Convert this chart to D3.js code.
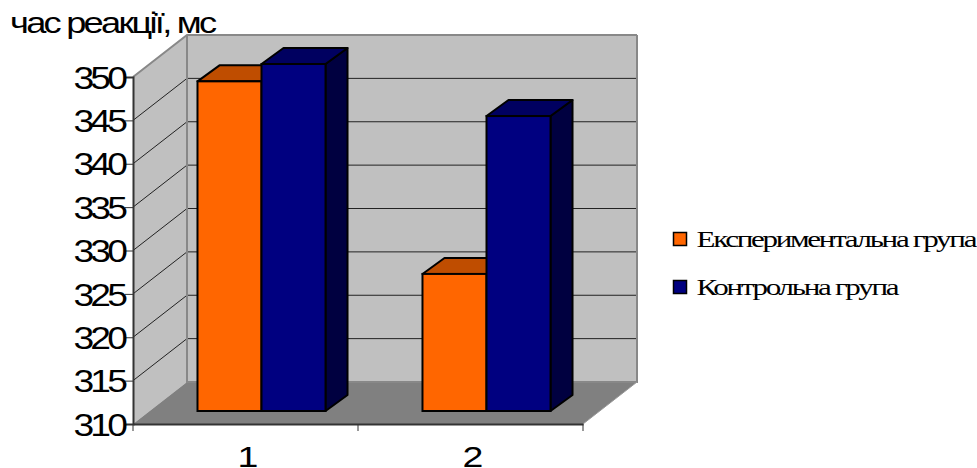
<!DOCTYPE html>
<html>
<head>
<meta charset="utf-8">
<script src="https://cdn.jsdelivr.net/npm/d3@7"></script>
<style>
html,body{margin:0;padding:0;background:#fff;overflow:hidden}
svg{display:block}
</style>
</head>
<body>
<svg id="chart" width="977" height="468"></svg>
<script>
const categories = ["1", "2"];
const seriesNames = ["Експериментальна група", "Контрольна група"];
const experimental = [348, 325.8];
const control = [350, 344];
const yTicks = [310, 315, 320, 325, 330, 335, 340, 345, 350];
const axisTitle = "час реакції, мс";
const fills = ["#ff6600", "#000080"];
const topFills = ["#bf4d00", "#000060"];
const sideFills = ["#bf4d00", "#000040"];

const svg = d3.select("#chart");

// Box projection: front plane and the offset of the back wall
const y = d3.scaleLinear().domain([310, 350]).range([424, 77]);
const x = d3.scaleBand().domain(categories).range([133, 583]);
const wallDx = 54, wallDy = -42;
const barInsetX = 16, barInsetY = -13;
const barDx = 22, barDy = -16;

const xBars = d3.scaleBand().domain(categories)
  .range([133 + barInsetX, 583 + barInsetX]).paddingInner(0.431).paddingOuter(0.2155);
const xGroup = d3.scaleBand().domain([0, 1]).range([0, xBars.bandwidth()]);

const x0 = x.range()[0], x1 = x.range()[1];
const yB = y(310), yT = y(350);
const pts = a => a.map(p => p.join(",")).join(" ");

// Walls and floor
svg.append("polygon").attr("fill", "#c0c0c0")
  .attr("points", pts([[x0 + wallDx, yB + wallDy], [x1 + wallDx, yB + wallDy], [x1 + wallDx, yT + wallDy], [x0 + wallDx, yT + wallDy]]));
svg.append("polygon").attr("fill", "#c0c0c0")
  .attr("points", pts([[x0, yB], [x0 + wallDx, yB + wallDy], [x0 + wallDx, yT + wallDy], [x0, yT]]));
svg.append("polygon").attr("fill", "#808080")
  .attr("points", pts([[x0, yB], [x0 + wallDx, yB + wallDy], [x1 + wallDx, yB + wallDy], [x1, yB]]));

// Gridlines running along the side wall and across the back wall
svg.append("g").selectAll("polyline").data(yTicks.slice(1)).join("polyline")
  .attr("fill", "none")
  .attr("points", d => pts([[x0, y(d)], [x0 + wallDx, y(d) + wallDy], [x1 + wallDx, y(d) + wallDy]]))
  .attr("stroke", d => d === 350 ? "#888" : "#222")
  .attr("stroke-width", d => d === 350 ? 2 : 1);

// Wall edges
svg.append("polyline").attr("fill", "none").attr("stroke", "#888").attr("stroke-width", 2)
  .attr("points", pts([[x0 + wallDx, yT + wallDy], [x0 + wallDx, yB + wallDy], [x1 + wallDx, yB + wallDy], [x1 + wallDx, yT + wallDy]]));
svg.append("line").attr("stroke", "#999").attr("stroke-width", 1)
  .attr("x1", x1).attr("y1", yB).attr("x2", x1 + wallDx).attr("y2", yB + wallDy);

// Bars: side and top faces first, then the front face
[0, 1].forEach(s => {
  const values = s === 0 ? experimental : control;
  const g = svg.append("g");
  categories.forEach((c, i) => {
    const l = xBars(c) + xGroup(s), r = l + xGroup.bandwidth();
    const t = y(values[i]) + barInsetY, b = yB + barInsetY;
    g.append("polygon").attr("fill", sideFills[s])
      .attr("stroke", "#000").attr("stroke-width", 2).attr("stroke-linejoin", "round")
      .attr("points", pts([[r, t], [r + barDx, t + barDy], [r + barDx, b + barDy], [r, b]]));
    g.append("polygon").attr("fill", topFills[s])
      .attr("stroke", "#000").attr("stroke-width", 2).attr("stroke-linejoin", "round")
      .attr("points", pts([[l, t], [l + barDx, t + barDy], [r + barDx, t + barDy], [r, t]]));
  });
});
// Front faces go on last so the taller neighbour covers the shorter bar's side
[0, 1].forEach(s => {
  const values = s === 0 ? experimental : control;
  svg.append("g").selectAll("rect").data(categories).join("rect")
    .attr("x", c => xBars(c) + xGroup(s))
    .attr("y", (c, i) => y(values[i]) + barInsetY)
    .attr("width", xGroup.bandwidth())
    .attr("height", (c, i) => yB - y(values[i]))
    .attr("fill", fills[s]).attr("stroke", "#000").attr("stroke-width", 2);
});

// Axes
const font = "'Liberation Sans', Arial, sans-serif";
const axisY = svg.append("g").attr("transform", `translate(${x0},0)`)
  .call(d3.axisLeft(y).tickValues(yTicks).tickSize(8));
const axisX = svg.append("g").attr("transform", `translate(0,${yB})`)
  .call(d3.axisBottom(x).tickSize(0));
axisX.append("g").selectAll("line").data([0, 1, 2]).join("line")
  .attr("x1", i => x0 + i * x.step()).attr("x2", i => x0 + i * x.step())
  .attr("y1", 0).attr("y2", 7).attr("stroke", "#333");
[axisY, axisX].forEach(a => {
  a.selectAll(".domain").attr("stroke", "#333").attr("stroke-width", 2);
  a.selectAll(".tick line").attr("stroke", "#333");
  a.selectAll("text").attr("fill", "#000").style("font-family", font)
    .style("font-size", "30px");
});
// Wide, tightly set numerals
axisY.selectAll("text").attr("x", 0).attr("dy", "0.36em")
  .attr("transform", "translate(-9,0) scale(1.2,1)").style("font-size", "31px").style("letter-spacing", "-3.2px");
axisX.selectAll("text").attr("x", 0).attr("y", 0).attr("dy", 0)
  .attr("transform", "translate(2.5,43) scale(1.25,1)");

svg.append("text").attr("transform", "translate(10,33) scale(1.25,1)").text(axisTitle)
  .style("font-family", font).style("font-size", "29px").style("letter-spacing", "-2.2px");

// Legend: glyphs widened horizontally, advances kept tight
const legend = svg.append("g").selectAll("g").data(seriesNames).join("g")
  .attr("transform", (d, i) => `translate(673.5,${232.5 + i * 48})`);
legend.append("rect").attr("width", 13).attr("height", 13)
  .attr("fill", (d, i) => fills[i]).attr("stroke", "#000").attr("stroke-width", 1.5);
legend.append("text").attr("transform", "translate(23,14.5) scale(1.35,1)").text(d => d)
  .style("font-family", "'Liberation Serif', 'Times New Roman', serif")
  .style("font-size", "23px").style("letter-spacing", "-1.7px");
</script>
</body>
</html>
